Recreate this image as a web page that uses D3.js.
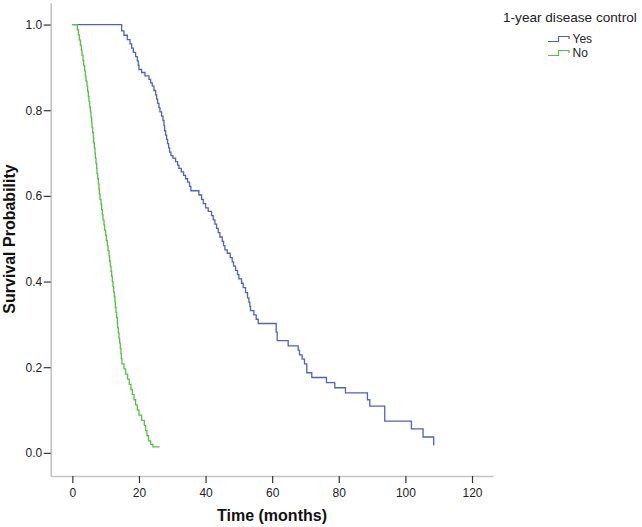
<!DOCTYPE html>
<html>
<head>
<meta charset="utf-8">
<script src="https://cdn.jsdelivr.net/npm/d3@7"></script>
<style>
  body { margin: 0; background: #fff; }
  svg { display: block; font-family: Arial, "Liberation Sans", sans-serif; }
  .axisText { font-weight: bold; font-size: 16px; fill: #111; }
</style>
</head>
<body>
<div id="chart"></div>
<script>
// data: [time in months, survival] at each drop
var yesTimes = [0, 14.8, 15.5, 16.5, 17.3, 17.8, 18.3, 19.0, 19.5, 19.8, 20.0, 20.8, 21.8, 23.0, 23.5, 24.0, 24.5, 25.0, 25.3, 25.6,
  26.0, 26.3, 26.8, 27.2, 27.5, 27.7, 28.0, 28.3, 28.6, 28.9, 29.2, 29.6, 30.2, 31.0, 31.6, 32.0, 32.7, 33.4, 34.0, 34.6,
  35.2, 35.6, 38.0, 38.8, 39.3, 40.0, 40.8, 41.8, 42.3, 42.8, 43.3, 43.8, 44.3, 45.0, 45.4, 45.8, 46.5, 47.4, 48.0, 48.4,
  49.0, 49.6, 50.0, 50.8, 51.3, 52.0, 52.6, 53.0, 53.3, 53.5, 54.5, 55.2, 55.8, 61.2, 61.5, 64.8, 67.8, 68.2, 69.0, 69.7,
  70.4, 71.9, 76.3, 78.8, 82.0, 88.6, 89.3, 93.8, 101.8, 105.3, 108.5, 108.7];
var yesSurv = [1.0, 0.985, 0.975, 0.965, 0.955, 0.945, 0.935, 0.925, 0.915, 0.905, 0.895, 0.888, 0.880, 0.872, 0.864, 0.856, 0.846, 0.836, 0.826, 0.816,
  0.806, 0.796, 0.786, 0.776, 0.764, 0.752, 0.742, 0.732, 0.722, 0.712, 0.702, 0.694, 0.688, 0.680, 0.672, 0.664, 0.656, 0.648, 0.640, 0.632,
  0.622, 0.612, 0.602, 0.592, 0.582, 0.572, 0.564, 0.554, 0.544, 0.534, 0.524, 0.514, 0.504, 0.494, 0.484, 0.474, 0.466, 0.456, 0.446, 0.436,
  0.426, 0.416, 0.406, 0.396, 0.386, 0.374, 0.362, 0.352, 0.342, 0.332, 0.322, 0.312, 0.302, 0.282, 0.262, 0.250, 0.240, 0.229, 0.219, 0.208,
  0.187, 0.176, 0.164, 0.152, 0.140, 0.124, 0.109, 0.074, 0.056, 0.037, 0.019, 0.019];

var noTimes = [0, 1.5, 1.8, 2.1, 2.4, 2.7, 2.9, 3.2, 3.4, 3.7, 3.9, 4.1, 4.4, 4.6, 4.8, 5.0, 5.2, 5.4, 5.6, 5.8,
  5.9, 6.1, 6.3, 6.4, 6.6, 6.8, 6.9, 7.1, 7.3, 7.4, 7.6, 7.8, 8.0, 8.1, 8.3, 8.6, 8.8, 9.0, 9.2, 9.5,
  9.7, 10.0, 10.2, 10.5, 10.7, 11.0, 11.2, 11.4, 11.6, 11.8, 12.0, 12.2, 12.4, 12.6, 12.8, 12.9, 13.1, 13.3, 13.5, 13.6,
  13.8, 14.0, 14.2, 14.4, 14.6, 14.7, 14.9, 15.5, 16.0, 16.6, 17.1, 17.6, 18.0, 18.5, 19.0, 19.5, 20.0, 20.8, 21.6, 22.0,
  22.4, 22.9, 23.5, 24.2, 26.2];
var noSurv = [1.0, 0.988, 0.976, 0.964, 0.952, 0.940, 0.928, 0.916, 0.904, 0.892, 0.880, 0.868, 0.856, 0.844, 0.832, 0.820, 0.808, 0.796, 0.784, 0.772,
  0.760, 0.748, 0.736, 0.724, 0.712, 0.700, 0.688, 0.676, 0.664, 0.652, 0.640, 0.628, 0.616, 0.604, 0.592, 0.580, 0.568, 0.556, 0.544, 0.532,
  0.520, 0.508, 0.496, 0.484, 0.472, 0.460, 0.448, 0.436, 0.424, 0.412, 0.400, 0.388, 0.376, 0.364, 0.352, 0.340, 0.328, 0.316, 0.304, 0.292,
  0.280, 0.268, 0.256, 0.244, 0.232, 0.220, 0.208, 0.196, 0.184, 0.172, 0.160, 0.148, 0.136, 0.124, 0.112, 0.100, 0.088, 0.076, 0.064, 0.052,
  0.040, 0.028, 0.020, 0.014, 0.014];

var groupNames = ["Yes", "No"];
var groupColors = ["#4f61c4", "#52c43f"];
var xTicks = [0, 20, 40, 60, 80, 100, 120];
var yTicks = [0.0, 0.2, 0.4, 0.6, 0.8, 1.0];
var legendTitle = "1-year disease control";

var svgWidth = 642;
var svgHeight = 527;

var svg = d3.select("#chart")
  .append("svg")
  .attr("width", svgWidth)
  .attr("height", svgHeight);

svg.append("rect").attr("width", svgWidth).attr("height", svgHeight).attr("fill", "#fff");

var xScale = d3.scaleLinear().domain([-6.5, 126.3]).range([50.7, 493]);
var yScale = d3.scaleLinear().domain([-0.054, 1.051]).range([476, 2.7]);

// axes: light grey line, dark ticks
var xAxis = svg.append("g")
  .attr("transform", "translate(0,476)")
  .call(d3.axisBottom(xScale).tickValues(xTicks).tickSize(7).tickSizeOuter(0).tickPadding(5.5));
var yAxis = svg.append("g")
  .attr("transform", "translate(50.7,0)")
  .call(d3.axisLeft(yScale).tickValues(yTicks).tickSize(7).tickSizeOuter(0).tickPadding(1.5).tickFormat(d3.format(".1f")));

[xAxis, yAxis].forEach(function(a) {
  a.select(".domain").attr("stroke", "#c4c4c4").attr("stroke-width", 1.6);
  a.selectAll(".tick line").attr("stroke", "#333").attr("stroke-width", 1.2);
  a.selectAll(".tick text").attr("fill", "#222").style("font-size", "12px").style("font-family", "Arial, 'Liberation Sans', sans-serif");
});

// curves
var line = d3.line()
  .x(function(d) { return xScale(d[0]); })
  .y(function(d) { return yScale(d[1]); })
  .curve(d3.curveStepAfter);

var series = [
  d3.zip(yesTimes, yesSurv),
  d3.zip(noTimes, noSurv)
];

svg.selectAll(".km")
  .data(series)
  .enter()
  .append("path")
  .attr("class", "km")
  .attr("fill", "none")
  .attr("stroke", function(d, i) { return groupColors[i]; })
  .attr("stroke-width", 1.3)
  .attr("d", line);

// axis titles
svg.append("text")
  .attr("class", "axisText")
  .attr("x", 272)
  .attr("y", 521)
  .attr("text-anchor", "middle")
  .text("Time (months)");

svg.append("text")
  .attr("class", "axisText")
  .attr("transform", "translate(14.5,239) rotate(-90)")
  .attr("text-anchor", "middle")
  .text("Survival Probability");

// legend
svg.append("text")
  .attr("x", 503)
  .attr("y", 22)
  .attr("fill", "#222")
  .style("font-size", "13.6px")
  .text(legendTitle);

var legend = svg.selectAll(".legendItem")
  .data(groupNames)
  .enter()
  .append("g")
  .attr("class", "legendItem")
  .attr("transform", function(d, i) { return "translate(0," + (i * 14) + ")"; });

legend.append("path")
  .attr("fill", "none")
  .attr("stroke", function(d, i) { return groupColors[i]; })
  .attr("stroke-width", 1.2)
  .attr("d", "M548,41.5H558.5V36.5H569V39");

legend.append("text")
  .attr("x", 572.5)
  .attr("y", 43.3)
  .attr("fill", "#222")
  .style("font-size", "12px")
  .text(function(d) { return d; });
</script>
</body>
</html>
